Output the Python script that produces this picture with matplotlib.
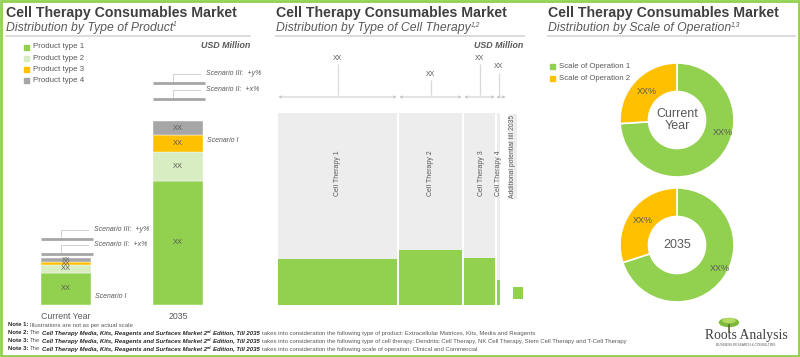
import matplotlib
matplotlib.use("Agg")
import matplotlib.pyplot as plt
from matplotlib.patches import Rectangle, Ellipse
import numpy as np

plt.rcParams['font.family'] = ['Liberation Sans', 'DejaVu Sans']

# figure size in pixels
W, H = 800, 357

# colours
GREEN = '#92D050'
LIGHT_GREEN = '#D8EDC2'
ORANGE = '#FFC000'
GREY = '#A6A6A6'
PALE = '#EDEDED'
TITLE = '#404040'
TEXT = '#595959'

# ---- panel 1: type of product (illustrative units)
product_types = ['Product type 1', 'Product type 2', 'Product type 3', 'Product type 4']
product_colors = [GREEN, LIGHT_GREEN, ORANGE, GREY]
years = ['Current Year', '2035']
current_values = [32, 8, 3.5, 3.5]
values_2035 = [124, 29, 17, 14]
scenario_2 = [51, 206.5]
scenario_3 = [66.5, 222.5]
scenario_1_y = [8, 164]

# ---- panel 2: type of cell therapy (mekko)
therapies = ['Cell Therapy 1', 'Cell Therapy 2', 'Cell Therapy 3', 'Cell Therapy 4']
therapy_width = [119, 63, 31, 3]
therapy_current = [46, 55, 47.5, 25]
therapy_potential = [192, 192, 192, 192]
therapy_growth = [241, 225, 241, 232]
additional_potential = 12

# ---- panel 3: scale of operation
scales = ['Scale of Operation 1', 'Scale of Operation 2']
scale_colors = [GREEN, ORANGE]
scale_current = [74, 26]
scale_2035 = [70, 30]
donut_centre = ['Current\nYear', '2035']


def fx(x):
    return x / W


def fy(y):
    return 1 - y / H


fig = plt.figure(figsize=(W / 100, H / 100), dpi=100)
renderer = fig.canvas.get_renderer()


def space_width(**kw):
    a = fig.text(0, 0, 'a a', **kw)
    b = fig.text(0, 0, 'aa', **kw)
    w = a.get_window_extent(renderer).width - b.get_window_extent(renderer).width
    a.remove()
    b.remove()
    return w


def rich_text(x, y, pieces, size):
    # pieces: (text, colour, weight, style, size factor, raise in px)
    for s, col, weight, style, scale, rise in pieces:
        kw = dict(fontsize=size * scale, color=col, fontweight=weight, fontstyle=style)
        if s.startswith(' '):
            x += space_width(**kw)
            s = s.lstrip()
        t = fig.text(fx(x), fy(y - rise), s, va='center', ha='left', **kw)
        x += t.get_window_extent(renderer).width


def header(x, right, title, subtitle, sup):
    fig.text(fx(x), fy(12.5), title, fontsize=10.2, fontweight='bold', color=TITLE, va='center')
    rich_text(x, 28, [(subtitle, TEXT, 'normal', 'italic', 1, 0),
                      (sup, TEXT, 'normal', 'italic', 0.55, 3.5)], 8.8)
    fig.add_artist(plt.Line2D([fx(x), fx(right)], [fy(36), fy(36)], color='#D9D9D9', lw=1.3))


header(6, 250, 'Cell Therapy Consumables Market', 'Distribution by Type of Product', '1')
header(276, 524, 'Cell Therapy Consumables Market', 'Distribution by Type of Cell Therapy', '1,2')
header(548, 795, 'Cell Therapy Consumables Market', 'Distribution by Scale of Operation', '1,3')

for xr in [250, 523]:
    fig.text(fx(xr), fy(45), 'USD Million', fontsize=6.4, fontweight='bold', fontstyle='italic',
             color=TEXT, ha='right', va='center')

# ---------------- panel 1 ----------------
for i, (lab, col) in enumerate(zip(product_types, product_colors)):
    yy = 47 + 11.3 * i
    fig.add_artist(Rectangle((fx(23.5), fy(yy + 2.5)), 5 / W, 5 / H, color=col, transform=fig.transFigure))
    fig.text(fx(33), fy(yy), lab, fontsize=5.7, color=TEXT, va='center')

ax1 = fig.add_axes([fx(10), fy(305), 240 / W, 265 / H])
ax1.set_xlim(-0.5, 1.643)
ax1.set_ylim(0, 265)
x = np.arange(len(years))
bw = 50 / 112
stack = np.array([current_values, values_2035]).T
bottom = np.zeros(2)
for i in range(len(product_types)):
    ax1.bar(x, stack[i], bottom=bottom, width=bw, color=product_colors[i],
            edgecolor='white', linewidth=0.3, zorder=3)
    for xi, b, v in zip(x, bottom, stack[i]):
        # the thin current-year slices get smaller labels, as in the source
        fs = 5.4 if v > 6 else 4.6
        ax1.text(xi, b + v / 2, 'XX', ha='center', va='center', fontsize=fs, color=TEXT, zorder=4)
    bottom += stack[i]

ax1.axhline(-0.5, xmin=0, xmax=0.9375, color='#D9D9D9', lw=1, zorder=1)
for xi, s2, s3, s1 in zip(x, scenario_2, scenario_3, scenario_1_y):
    for s, lab in [(s2, 'Scenario II:  +x%'), (s3, 'Scenario III:  +y%')]:
        ax1.hlines(s, xi - bw / 2, xi + bw / 2 + 0.02, color=GREY, lw=2, zorder=3)
        ax1.plot([xi - 0.045, xi - 0.045, xi + 0.196], [s, s + 9, s + 9], color='#D0D0D0', lw=0.7, zorder=2)
        ax1.text(xi + 0.25, s + 9, lab, fontsize=5, fontstyle='italic', color=TEXT, va='center')
    ax1.text(xi + 0.26, s1, 'Scenario I', fontsize=5, fontstyle='italic', color=TEXT, va='center')

ax1.set_xticks(x, years)
ax1.tick_params(length=0, pad=5, labelsize=6.3, labelcolor=TEXT)
ax1.set_yticks([])
for sp in ax1.spines.values():
    sp.set_visible(False)
ax1.patch.set_visible(False)

# ---------------- panel 2 ----------------
ax2 = fig.add_axes([fx(278), fy(305), 246 / W, 265 / H])
ax2.set_xlim(0, 246)
ax2.set_ylim(0, 265)
widths = np.array(therapy_width)
lefts = np.concatenate([[0], np.cumsum(widths + 2)[:-1]])
ax2.bar(lefts, therapy_potential, width=widths, align='edge', color=PALE)
ax2.bar(lefts, therapy_current, width=widths, align='edge', color=GREEN)
arrow_y = 208
for l, w, top, name in zip(lefts, widths, therapy_growth, therapies):
    c = l + w / 2
    span = max(w, 10)
    a0 = l if w >= 10 else l - 1
    ax2.annotate('', xy=(a0 + 0.5, arrow_y), xytext=(a0 + span - 0.5, arrow_y),
                 arrowprops=dict(arrowstyle='<->', color='#BFBFBF', lw=0.6,
                                 shrinkA=0, shrinkB=0, mutation_scale=4))
    ax2.vlines(c, arrow_y + 2, top, color='#D9D9D9', lw=0.9)
    ax2.text(c, top + 6, 'XX', ha='center', va='center', fontsize=5, color=TEXT)
    ax2.text(c + (2 if 20 < w < 40 else 0), 155, name, rotation=90, ha='center', va='top',
             fontsize=5, color=TEXT)

ax2.text(235, 190, 'Additional potential till 2035', rotation=90, ha='center', va='top',
         fontsize=4.9, color=TEXT, bbox=dict(facecolor=PALE, edgecolor='none', pad=0.6))
ax2.bar(235, additional_potential, bottom=6, width=10, align='edge', color=GREEN)
ax2.axis('off')

# ---------------- panel 3 ----------------
for i, (lab, col) in enumerate(zip(scales, scale_colors)):
    yy = 66 + 12.7 * i
    fig.add_artist(Rectangle((fx(549.5), fy(yy + 2.5)), 5 / W, 5 / H, color=col, transform=fig.transFigure))
    fig.text(fx(559), fy(yy), lab, fontsize=5.6, color=TEXT, va='center')

green_label = [(-15, 0.83), (-28, 0.86)]
for cy, vals, centre, (ga, gr) in zip([120, 245], [scale_current, scale_2035], donut_centre, green_label):
    ax = fig.add_axes([fx(677 - 57), fy(cy + 57), 114 / W, 114 / H])
    wedges, _ = ax.pie(vals, colors=scale_colors, startangle=90, counterclock=False, radius=1,
                       wedgeprops=dict(width=0.5, edgecolor='white', linewidth=1.2))
    ax.set_xlim(-1, 1)
    ax.set_ylim(-1, 1)
    ax.text(0, 0, centre, ha='center', va='center', fontsize=9, color=TEXT, linespacing=1.1)
    ow = wedges[1]
    oa = np.deg2rad((ow.theta1 + ow.theta2) / 2)
    ax.text(0.73 * np.cos(oa), 0.73 * np.sin(oa), 'XX%', ha='center', va='center', fontsize=6.5, color=TEXT)
    ga = np.deg2rad(ga)
    ax.text(gr * np.cos(ga), gr * np.sin(ga), 'XX%', ha='center', va='center', fontsize=6.5, color=TEXT)

# ---------------- notes ----------------
DARK = '#262626'
book = [(' Cell Therapy Media, Kits, Reagents and Surfaces Market 2', DARK, 'bold', 'italic', 1, 0),
        ('nd', DARK, 'bold', 'italic', 0.6, 1.2),
        (' Edition, Till 2035', DARK, 'bold', 'italic', 1, 0)]
notes = [
    [('Note 1:', DARK, 'bold', 'normal', 1, 0),
     (' Illustrations are not as per actual scale', TEXT, 'normal', 'normal', 1, 0)],
    [('Note 2:', DARK, 'bold', 'normal', 1, 0), (' The', TEXT, 'normal', 'normal', 1, 0)] + book +
    [(' takes into consideration the following type of product: Extracellular Matrices, Kits, Media and Reagents',
      TEXT, 'normal', 'normal', 1, 0)],
    [('Note 3:', DARK, 'bold', 'normal', 1, 0), (' The', TEXT, 'normal', 'normal', 1, 0)] + book +
    [(' takes into consideration the following type of cell therapy: Dendritic Cell Therapy, NK Cell Therapy, '
      'Stem Cell Therapy and T-Cell Therapy', TEXT, 'normal', 'normal', 1, 0)],
    [('Note 3:', DARK, 'bold', 'normal', 1, 0), (' The', TEXT, 'normal', 'normal', 1, 0)] + book +
    [(' takes into consideration the following scale of operation: Clinical and Commercial',
      TEXT, 'normal', 'normal', 1, 0)],
]
for i, pieces in enumerate(notes):
    rich_text(8, 325 + 8 * i, pieces, 4.35)

# ---------------- logo ----------------
fig.add_artist(plt.Line2D([fx(729), fx(729)], [fy(325), fy(331)], color='#5B6B2F', lw=1.2))
fig.add_artist(Ellipse((fx(729), fy(322.5)), 19 / W, 8 / H, color='#7DBB3C', transform=fig.transFigure))
fig.add_artist(Ellipse((fx(729), fy(320.5)), 12 / W, 4 / H, color='#B5DC62', transform=fig.transFigure))
fig.text(fx(746), fy(335), 'Roots Analysis', family=['Liberation Serif', 'DejaVu Serif'],
         fontsize=9.8, color='#3F3F3F', ha='center', va='center')
fig.text(fx(746), fy(345.5), 'BUSINESS RESEARCH & CONSULTING', fontsize=2.3, color=TEXT,
         ha='center', va='center')

# green frame
fig.add_artist(Rectangle((fx(1), fy(355.5)), 798 / W, 354.5 / H, fill=False, edgecolor=GREEN,
                         lw=2, transform=fig.transFigure))

fig.savefig('out.png', dpi=100)
